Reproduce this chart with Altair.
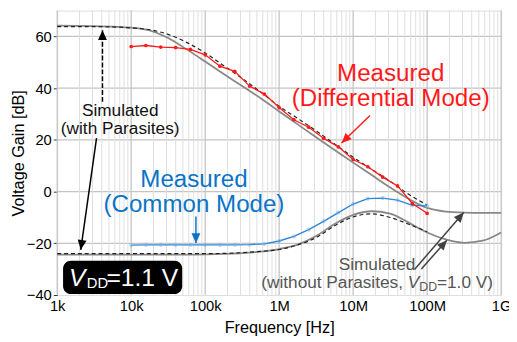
import math
import altair as alt
import pandas as pd

FONT = "Liberation Sans"

# ---------------- data ----------------
meas_freq = [1.0e4, 1.58e4, 2.51e4, 3.98e4, 6.31e4, 1.0e5, 1.58e5, 2.51e5, 3.98e5, 6.31e5,
             1.0e6, 1.58e6, 2.51e6, 3.98e6, 6.31e6, 1.0e7, 1.58e7, 2.51e7, 3.98e7, 6.31e7, 1.0e8]
meas_diff = [56.1, 56.5, 55.9, 55.7, 55.0, 52.9, 48.5, 46.5, 40.8, 37.7,
             32.5, 27.8, 24.9, 20.6, 17.3, 12.4, 9.6, 5.6, 2.2, -4.6, -8.4]
meas_cm = [-20.7, -20.6, -20.6, -20.6, -20.6, -20.6, -20.6, -20.6, -20.5, -20.2,
           -19.1, -17.3, -14.7, -11.5, -8.1, -4.8, -2.7, -2.5, -3.3, -5.3, -5.5]

sim_freq = [1e3, 3.16e3, 1e4, 1.78e4, 3.16e4, 5.62e4, 1e5, 1.78e5, 3.16e5, 5.62e5,
            1e6, 1.78e6, 3.16e6, 5.62e6, 1e7, 1.78e7, 3.16e7, 5.62e7, 1e8,
            1.78e8, 3.16e8, 5.62e8, 1e9]
# simulated without parasites (solid grey), up to 1 GHz
sim_np_diff = [64.2, 64.0, 63.4, 62.3, 59.4, 55.0, 50.3, 45.5, 40.8, 36.1,
               31.0, 26.0, 21.0, 16.1, 11.2, 6.4, 1.6, -2.8, -6.3,
               -7.7, -8.1, -8.2, -8.2]
sim_np_cm = [-24.4, -24.4, -24.4, -24.4, -24.4, -24.4, -24.3, -24.1, -23.8, -23.2,
             -22.2, -20.5, -17.2, -12.5, -9.0, -7.6, -8.5, -12.0, -15.8,
             -18.5, -19.8, -19.0, -15.8]
# simulated with parasites (dashed), up to 100 MHz
sim_p_freq = sim_freq[:19]
sim_p_diff = [63.8, 63.8, 63.3, 62.6, 60.8, 57.7, 53.6, 48.7, 43.8, 38.5,
              33.0, 28.3, 23.5, 18.4, 13.3, 8.6, 4.0, -1.0, -5.2]
sim_p_cm = [-24.0, -24.0, -24.0, -24.0, -24.0, -24.0, -24.0, -23.9, -23.6, -23.1,
            -22.4, -20.6, -17.8, -13.2, -9.8, -8.6, -10.0, -12.6, -15.5]

x_tick_vals = [1e3, 1e4, 1e5, 1e6, 1e7, 1e8, 1e9]
x_tick_text = ["1k", "10k", "100k", "1M", "10M", "100M", "1G"]
y_tick_vals = [-40, -20, 0, 20, 40, 60]
minor_mult = [2, 3, 4, 5, 6, 7, 8, 9]

# ---------------- layout ----------------
W, H = 451, 289
XDOM = [1e3, 1e9]
YDOM = [-40, 70]


def px(f):
    return W * (math.log10(f) - 3) / 6.0


def py(v):
    return H * (YDOM[1] - v) / (YDOM[1] - YDOM[0])


xs = alt.Scale(type="log", domain=XDOM)
ys = alt.Scale(domain=YDOM)

label_expr = " : ".join(
    [f"datum.value == {v:g} ? '{t}'" for v, t in zip(x_tick_vals, x_tick_text)]) + " : ''"

x_axis = alt.Axis(values=x_tick_vals, labelExpr=label_expr, title="Frequency [Hz]",
                  grid=False, domain=False, ticks=False, labelPadding=4,
                  labelFontSize=15, titleFontSize=16.5, titleFontWeight="normal",
                  labelColor="black", titleColor="black", titlePadding=6,
                  labelFont=FONT, titleFont=FONT, labelFlush=False)
y_axis = alt.Axis(values=y_tick_vals, title="Voltage Gain [dB]", grid=False, domain=False,
                  ticks=True, tickSize=4, tickColor="#333", labelPadding=2,
                  labelFontSize=15, titleFontSize=16.5, titleFontWeight="normal",
                  labelColor="black", titleColor="black", titlePadding=0,
                  labelFont=FONT, titleFont=FONT, labelFlush=False)


def X(field="f"):
    return alt.X(f"{field}:Q", scale=xs, axis=x_axis)


def Y(field="v"):
    return alt.Y(f"{field}:Q", scale=ys, axis=y_axis)


# ---------------- grid ----------------
minor_f = [m * 10 ** d for d in range(3, 9) for m in minor_mult]
grid_h = alt.Chart(pd.DataFrame({"v": [-20, 0, 20, 40, 60]})).mark_rule(
    color="#c4c4c4", strokeWidth=1.3).encode(y=Y())
grid_minor = alt.Chart(pd.DataFrame({"f": minor_f})).mark_rule(
    color="#dedede", strokeWidth=1).encode(x=X())
grid_major = alt.Chart(pd.DataFrame({"f": x_tick_vals})).mark_rule(
    color="#c4c4c4", strokeWidth=1.3).encode(x=X())

# ---------------- curves ----------------
sim_np = pd.DataFrame({"f": sim_freq * 2, "v": sim_np_diff + sim_np_cm,
                       "s": ["d"] * len(sim_freq) + ["c"] * len(sim_freq)})
sim_p = pd.DataFrame({"f": sim_p_freq * 2, "v": sim_p_diff + sim_p_cm,
                      "s": ["d"] * len(sim_p_freq) + ["c"] * len(sim_p_freq)})

base = alt.Chart(sim_np).mark_line(color="#888888", strokeWidth=1.8, interpolate="monotone").encode(
    x=X(), y=Y(), detail="s:N")
dashed = alt.Chart(sim_p).mark_line(color="#222222", strokeWidth=1.2, strokeDash=[4, 3],
                                    interpolate="monotone").encode(x=X(), y=Y(), detail="s:N")

meas = pd.DataFrame({"f": meas_freq, "d": meas_diff, "c": meas_cm})
blue_line = alt.Chart(meas).mark_line(color="#2b86d6", strokeWidth=1.4).encode(x=X(), y=Y("c"))
blue_pts = alt.Chart(meas).mark_point(shape="circle", filled=False, color="#78b4e8", size=10,
                                      strokeWidth=1).encode(x=X(), y=Y("c"))
red_line = alt.Chart(meas).mark_line(color="#ff1a1a", strokeWidth=1.3).encode(x=X(), y=Y("d"))
red_pts = alt.Chart(meas).mark_point(shape="circle", filled=True, color="#ff1a1a", size=14,
                                     opacity=1).encode(x=X(), y=Y("d"))

# ---------------- annotations ----------------
HEAD = "M0,0 L-0.9,2 L0.9,2 Z"


def arrow(f0, v0, f1, v1, color, dash=None, width=1.5):
    df = pd.DataFrame({"f": [f0], "v": [v0], "f2": [f1], "v2": [v1]})
    kw = {"color": color, "strokeWidth": width}
    if dash:
        kw["strokeDash"] = dash
    shaft = alt.Chart(df).mark_rule(**kw).encode(x=X(), y=Y(), x2="f2:Q", y2="v2:Q")
    dx = px(f1) - px(f0)
    dy = py(v1) - py(v0)
    ang = math.degrees(math.atan2(dx, -dy)) % 360
    head = alt.Chart(df).mark_point(shape=HEAD, filled=True, color=color, size=100, opacity=1,
                                    angle=ang, strokeWidth=0).encode(x=X("f2"), y=Y("v2"))
    return shaft + head


def txt(f, v, s, color, size, align="center", italic=False, dx=0, dy=0, baseline="middle"):
    df = pd.DataFrame({"f": [f], "v": [v], "t": [s]})
    return alt.Chart(df).mark_text(align=align, baseline=baseline, fontSize=size, color=color,
                                   fontStyle="italic" if italic else "normal", dx=dx, dy=dy,
                                   font=FONT).encode(x=X(), y=Y(), text="t:N")


BLACK_T = "#111111"
GREY_T = "#555555"
RED = "#ff1a1a"
BLUE_T = "#0a74c8"
GS = 17.5  # grey/black annotation font size
CS = 24.5  # coloured annotation font size

ann = [
    txt(7.10e3, 31.0, "Simulated", BLACK_T, GS),
    txt(7.10e3, 24.0, "(with Parasites)", BLACK_T, GS),
    arrow(4.09e3, 34.7, 4.09e3, 62.4, "black", dash=[5, 2]),
    arrow(3.40e3, 20.7, 2.08e3, -22.5, "black"),
    txt(3.22e7, 45.4, "Measured", RED, CS),
    txt(3.22e7, 35.9, "(Differential Mode)", RED, CS),
    arrow(1.69e7, 29.4, 6.97e6, 18.8, RED),
    txt(7.05e4, 4.4, "Measured", BLUE_T, CS),
    txt(7.05e4, -5.1, "(Common Mode)", BLUE_T, CS),
    arrow(7.5e4, -9.6, 7.5e4, -19.9, BLUE_T),
    txt(2.10e7, -28.4, "Simulated", GREY_T, GS),
    txt(5.73e5, -35.2, "(without Parasites,", GREY_T, GS, align="left"),
    txt(5.73e5, -35.2, "V", GREY_T, GS, align="left", italic=True, dx=148.8),
    txt(5.73e5, -35.2, "DD", GREY_T, 12.5, align="left", dx=160.5, dy=4),
    txt(5.73e5, -35.2, "=1.0 V)", GREY_T, GS, align="left", dx=178.5),
    arrow(6.75e7, -30.1, 3.12e8, -8.1, "#404040"),
    arrow(8.36e7, -29.9, 1.85e8, -18.8, "#404040"),
]

box = alt.Chart(pd.DataFrame({"f": [1.2e3], "v": [-26.7], "f2": [4.89e4], "v2": [-39.6]})).mark_rect(
    color="black", cornerRadius=8).encode(x=X(), y=Y(), x2="f2:Q", y2="v2:Q")
vdd = [
    box,
    txt(1.445e3, -36.6, "V", "white", 25, align="left", italic=True, baseline="alphabetic"),
    txt(1.445e3, -36.6, "DD", "white", 15, align="left", dx=18, dy=2, baseline="alphabetic"),
    txt(1.445e3, -36.6, "=1.1 V", "white", 25, align="left", dx=38, baseline="alphabetic"),
]

chart = alt.layer(grid_h, grid_minor, grid_major, base, dashed, blue_line, blue_pts,
                  red_line, red_pts, *ann, *vdd).properties(
    width=W, height=H, autosize=alt.AutoSizeParams(type="none"),
    padding={"left": 50, "top": 0, "right": 8, "bottom": 40},
).configure_view(stroke="#3a3a3a", strokeWidth=1.5).configure(font=FONT)

chart.save("out.html", embed_options={"renderer": "svg", "actions": False})
